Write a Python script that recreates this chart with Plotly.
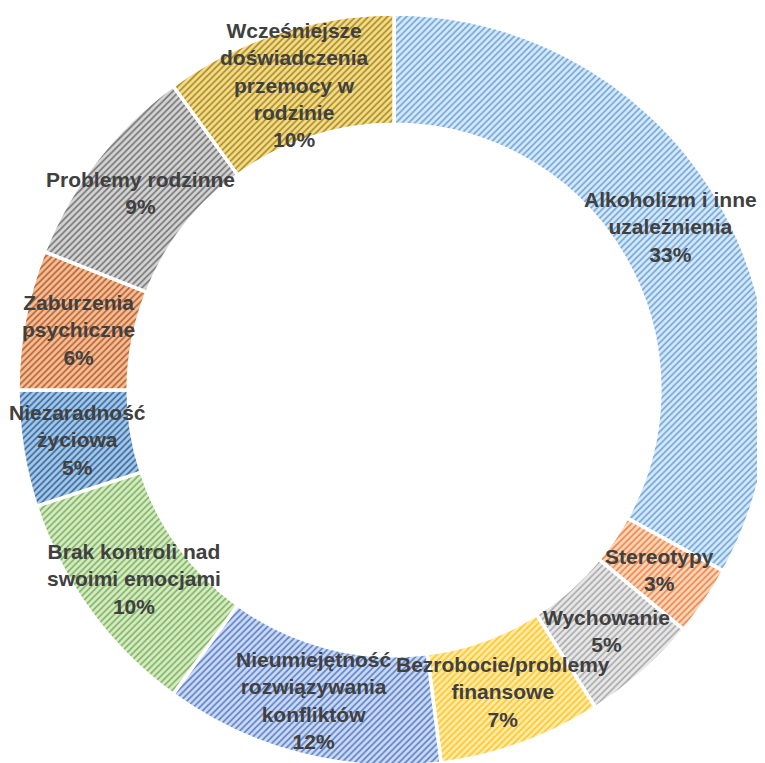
import math
import plotly.graph_objects as go

labels = [
    "Alkoholizm i inne<br>uzależnienia",
    "Stereotypy",
    "Wychowanie",
    "Bezrobocie/problemy<br>finansowe",
    "Nieumiejętność<br>rozwiązywania<br>konfliktów",
    "Brak kontroli nad<br>swoimi emocjami",
    "Niezaradność<br>życiowa",
    "Zaburzenia<br>psychiczne",
    "Problemy rodzinne",
    "Wcześniejsze<br>doświadczenia<br>przemocy w<br>rodzinie",
]
values = [33, 3, 5, 7, 12, 10, 5, 6, 9, 10]

fg_colors = ["#6AA6DC", "#EE8540", "#A8A8A8", "#FFC520", "#5580CC",
             "#7DB556", "#2F6AA3", "#B8612A", "#747474", "#AD8A10"]
bg_colors = ["#D9E8F7", "#FAD6BE", "#E8E8E8", "#FFEBAD", "#CFDAF1",
             "#D7EACA", "#A9C7E4", "#F4BE9A", "#D4D4D4", "#F1DC96"]

HOLE = 0.707

fig = go.Figure(go.Pie(
    labels=labels,
    values=values,
    hole=HOLE,
    sort=False,
    direction="clockwise",
    rotation=0,
    textinfo="none",
    marker=dict(
        colors=bg_colors,
        line=dict(color="white", width=3.5),
        pattern=dict(shape="/", fgcolor=fg_colors, bgcolor=bg_colors,
                     size=4.5, solidity=0.36, fillmode="replace"),
    ),
    showlegend=False,
    hoverinfo="label+percent",
))

# data labels at the middle of the ring, along each slice's mid-angle
total = sum(values)
ring_mid = (1 + HOLE) / 2 * 0.5  # in paper units (square plot area)
cum = 0
for lab, v in zip(labels, values):
    mid = (cum + v / 2) / total * 2 * math.pi
    cum += v
    fig.add_annotation(
        x=0.5 + ring_mid * math.sin(mid),
        y=0.5 + ring_mid * math.cos(mid),
        xref="paper", yref="paper",
        xanchor="center", yanchor="middle",
        text=f"{lab}<br>{round(v / total * 100)}%",
        showarrow=False,
        font=dict(family="Liberation Sans", size=21, color="#404040", weight="bold"),
        align="center",
    )

fig.update_layout(
    width=765, height=763,
    margin=dict(l=10, r=3, t=6, b=5),
    paper_bgcolor="white",
    plot_bgcolor="white",
    font=dict(family="Liberation Sans"),
)

fig.write_html("out.html")
